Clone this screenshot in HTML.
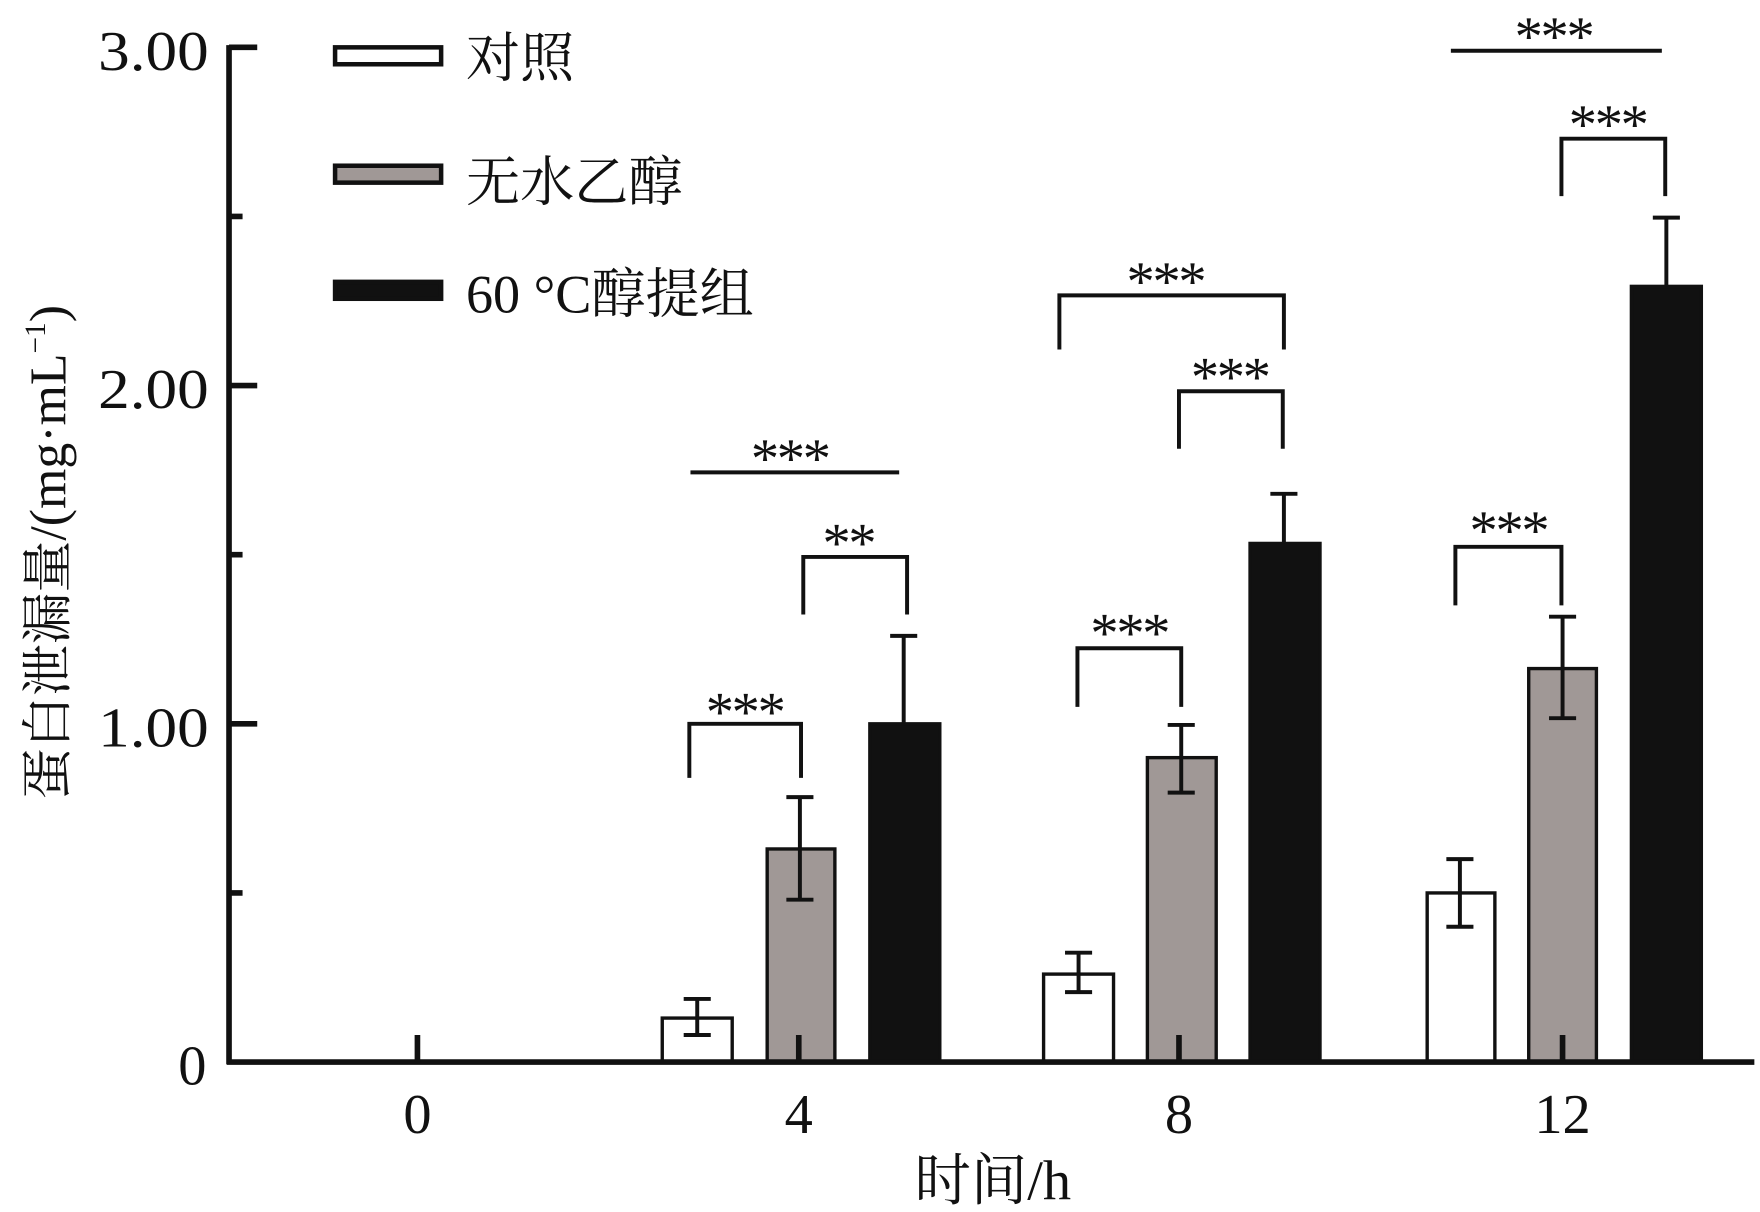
<!DOCTYPE html>
<html><head><meta charset="utf-8"><style>html,body{margin:0;padding:0;background:#fff}svg{display:block}</style></head><body>
<svg width="1760" height="1212" viewBox="0 0 1560 1075" preserveAspectRatio="none" xmlns="http://www.w3.org/2000/svg" font-family="'Liberation Serif','Noto Serif CJK SC',serif" fill="#111">
<g stroke="#111" stroke-width="3">
<rect x="587" y="903" width="62" height="39" fill="#fff"/>
<rect x="680" y="753" width="60" height="189" fill="#a09896"/>
<rect x="771" y="642" width="62" height="300" fill="#111"/>
<rect x="925" y="864" width="62" height="78" fill="#fff"/>
<rect x="1017" y="672" width="61" height="270" fill="#a09896"/>
<rect x="1108" y="482" width="62" height="460" fill="#111"/>
<rect x="1265" y="792" width="60" height="150" fill="#fff"/>
<rect x="1355" y="593" width="60" height="349" fill="#a09896"/>
<rect x="1446" y="254" width="62" height="688" fill="#111"/>
</g>
<g stroke="#111" stroke-width="3.5" fill="none">
<path d="M618 886V918M606 886H630M606 918H630"/>
<path d="M709 707V798M697 707H721M697 798H721"/>
<path d="M801 564V642M789 564H813"/>
<path d="M956 845V880M944 845H968M944 880H968"/>
<path d="M1047 643V703M1035 643H1059M1035 703H1059"/>
<path d="M1138 438V482M1126 438H1150"/>
<path d="M1294 762V822M1282 762H1306M1282 822H1306"/>
<path d="M1385 547V637M1373 547H1397M1373 637H1397"/>
<path d="M1477 193V254M1465 193H1489"/>
<path d="M611 690V642H710V690"/>
<path d="M712 545V494H804V545"/>
<path d="M612 419H797"/>
<path d="M955 627V575H1047V627"/>
<path d="M1045 398V347H1137V398"/>
<path d="M939 310V262H1138V310"/>
<path d="M1290 537V485H1384V537"/>
<path d="M1384 174V123H1476V174"/>
<path d="M1286 45H1473"/>
</g>
<g font-size="50" text-anchor="middle" letter-spacing="-2">
<text x="660" y="648">***</text>
<text x="752" y="498">**</text>
<text x="700" y="423">***</text>
<text x="1001" y="578">***</text>
<text x="1090" y="351">***</text>
<text x="1033" y="266">***</text>
<text x="1337" y="487">***</text>
<text x="1425" y="127">***</text>
<text x="1377" y="49">***</text>
</g>
<g stroke="#111" stroke-width="5" fill="none">
<path d="M203 40V944M201 942H1555"/>
<path d="M203 42H228M203 192H215M203 342H228M203 492H215M203 642H228M203 792H215"/>
<path d="M370 918V942M708 918V942M1045 918V942M1385 918V942"/>
</g>
<g font-size="50" text-anchor="end">
<text x="185" y="62" textLength="98" lengthAdjust="spacingAndGlyphs">3.00</text>
<text x="185" y="362" textLength="98" lengthAdjust="spacingAndGlyphs">2.00</text>
<text x="185" y="662" textLength="98" lengthAdjust="spacingAndGlyphs">1.00</text>
<text x="183" y="962">0</text>
</g>
<g font-size="50" text-anchor="middle">
<text x="370" y="1005">0</text>
<text x="708" y="1005">4</text>
<text x="1045" y="1005">8</text>
<text x="1385" y="1005">12</text>
<text x="880" y="1064">时间/h</text>
</g>
<text transform="translate(58 490) rotate(-90)" font-size="46" text-anchor="middle">蛋白泄漏量/(mg·mL<tspan font-size="26" dy="-18">−1</tspan><tspan dy="18">)</tspan></text>
<g stroke="#111" stroke-width="4">
<rect x="297" y="42" width="94" height="15" fill="#fff"/>
<rect x="297" y="147" width="94" height="15" fill="#a09896"/>
<rect x="297" y="250" width="94" height="15" fill="#111"/>
</g>
<g font-size="48">
<text x="413" y="68">对照</text>
<text x="413" y="178">无水乙醇</text>
<text x="413" y="277">60 °C醇提组</text>
</g>
</svg>
</body></html>
